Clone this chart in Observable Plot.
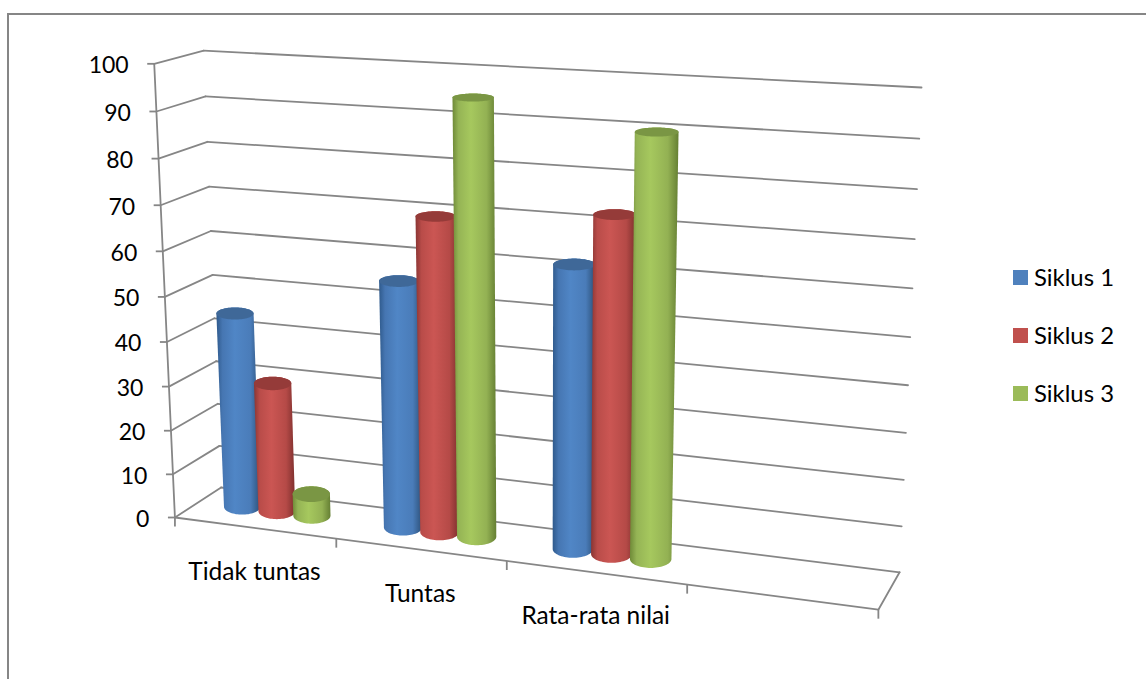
<!DOCTYPE html>
<html><head><meta charset="utf-8">
<script src="https://cdn.jsdelivr.net/npm/d3@7"></script>
<script src="https://cdn.jsdelivr.net/npm/@observablehq/plot@0.6"></script>
<style>
html,body{margin:0;padding:0;background:#fff;overflow:hidden}
#wrap{position:relative;width:1146px;height:679px;font-family:Lato,sans-serif;color:#000}
#frame{position:absolute;left:7px;top:13px;right:-5px;bottom:-5px;border:2px solid #868686}
#legend{position:absolute;left:1013px;top:248px;font-size:23.9px;line-height:58px}
#legend div{display:flex;align-items:center;height:58px}
#legend i{display:block;width:15px;height:15px;margin-right:6px}
svg{position:absolute;left:0;top:0;background:transparent}
</style></head><body>
<div id="wrap"><div id="frame"></div><div id="chart"></div><div id="legend"></div></div>
<script>
const categories = ["Tidak tuntas", "Tuntas", "Rata-rata nilai"];
const slots = 4; // the original axis keeps a fourth, empty category slot
const seriesNames = ["Siklus 1", "Siklus 2", "Siklus 3"];
const siklus1 = [44.5, 55, 61.7];
const siklus2 = [29.5, 69.5, 72.7];
const siklus3 = [5, 94.8, 90];
const seriesValues = [siklus1, siklus2, siklus3];
const yTicks = [0,10,20,30,40,50,60,70,80,90,100];
const swatches = ["#4f81bd","#c0504d","#9bbb59"];
const topColors = ["#3f6898","#953b39","#7a9644"];
const gradients = [
  ["#2f5a8c","#4676b2","#5086c6","#4a7cb9","#2c5078"],
  ["#8a3533","#b94c49","#cb5653","#b54a47","#7d2f2d"],
  ["#6f8a38","#95b455","#a6c85e","#93b153","#657f33"]
];

// perspective camera calibrated on the box corners of the 3-D chart: [u, value/100, depth] -> picture
const calib = [
  [0,0,0,175,517],[1,0,0,878,609],[1,0,1,899,572],[0,0,1,220,487],
  [0,1,0,153,63.5],[0,1,1,204,50],[1,1,1,921,87]
];
function solveCamera(pts){
  const rows=[],rhs=[];
  for(const [X,Y,Z,px,py] of pts){
    const x=px/1000,y=py/1000;
    rows.push([X,Y,Z,1,0,0,0,0,-x*X,-x*Y,-x*Z]);rhs.push(x);
    rows.push([0,0,0,0,X,Y,Z,1,-y*X,-y*Y,-y*Z]);rhs.push(y);
  }
  const n=11,A=[];
  for(let i=0;i<n;i++){A.push(new Array(n+1).fill(0));
    for(let j=0;j<n;j++)for(let k=0;k<rows.length;k++)A[i][j]+=rows[k][i]*rows[k][j];
    for(let k=0;k<rows.length;k++)A[i][n]+=rows[k][i]*rhs[k];
    A[i][i]+=1e-9;}
  for(let i=0;i<n;i++){let m=i;for(let r=i+1;r<n;r++)if(Math.abs(A[r][i])>Math.abs(A[m][i]))m=r;
    [A[i],A[m]]=[A[m],A[i]];
    for(let r=0;r<n;r++)if(r!==i){const f=A[r][i]/A[i][i];for(let c=i;c<=n;c++)A[r][c]-=f*A[i][c];}}
  return A.map((r,i)=>r[n]/r[i]);
}
const P=solveCamera(calib);
function proj(u,v,d){
  const w=P[8]*u+P[9]*v+P[10]*d+1;
  return {x:1000*(P[0]*u+P[1]*v+P[2]*d+P[3])/w, y:1000*(P[4]*u+P[5]*v+P[6]*d+P[7])/w};
}
const V=t=>t/100;

const gridBack = yTicks.flatMap(t=>[{t,...proj(0,V(t),1)},{t,...proj(1,V(t),1)}]);
const gridLeft = yTicks.flatMap(t=>[{t,...proj(0,V(t),0)},{t,...proj(0,V(t),1)}]);
const axisLeft = [proj(0,0,0),proj(0,1,0)];
const floorEdge = [proj(0,0,0),proj(1,0,0),proj(1,0,1)];
const xTicks = d3.range(slots+1).map(i=>proj(i/slots,0,0));
const yTickPts = yTicks.map(t=>({t,...proj(0,V(t),0)}));
const catPts = categories.map((c,i)=>({c,...proj((i+.5)/slots,0,0)}));

const spacing=0.055, rU=0.029, rD=0.26, midD=0.53, uShift=-0.002;
// the cylinder caps of the original are level ellipses: sizes come from the projection, the skew does not
function circle(u,v){
  const c=proj(u,v,midD);
  const rx=(proj(u+rU,v,midD).x-proj(u-rU,v,midD).x)/2;
  const ry=(proj(u,v,midD-rD).y-proj(u,v,midD+rD).y)/2;
  return d3.range(0,72).map(a=>{const t=a/72*2*Math.PI;return {x:c.x+rx*Math.cos(t),y:c.y+ry*Math.sin(t)};});
}
const cylinderMarks=[];
categories.forEach((c,i)=>{
  seriesValues.forEach((vals,j)=>{
    const u=(i+.5)/slots+(j-1)*spacing+uShift;
    const base=circle(u,0), top=circle(u,V(vals[i]));
    const hull=d3.polygonHull(base.concat(top).map(p=>[p.x,p.y])).map(([x,y])=>({x,y}));
    cylinderMarks.push(Plot.line(hull.concat(hull[0]),{x:"x",y:"y",fill:`url(#g${j})`,stroke:"none"}));
    cylinderMarks.push(Plot.line(top,{x:"x",y:"y",fill:topColors[j],stroke:"none"}));
  });
});

const grey="#868686", lw=1.8;
const svg=Plot.plot({
  width:1146,height:679,margin:0,
  x:{domain:[0,1146],range:[0,1146],axis:null},
  y:{domain:[0,679],range:[0,679],axis:null},
  style:{background:"transparent"},
  marks:[
    Plot.line(gridBack,{x:"x",y:"y",z:"t",stroke:grey,strokeWidth:lw}),
    Plot.line(gridLeft,{x:"x",y:"y",z:"t",stroke:grey,strokeWidth:lw}),
    Plot.line(axisLeft,{x:"x",y:"y",stroke:grey,strokeWidth:lw}),
    Plot.line(floorEdge,{x:"x",y:"y",stroke:grey,strokeWidth:lw}),
    Plot.link(xTicks,{x1:"x",y1:"y",x2:"x",y2:d=>d.y+9,stroke:grey,strokeWidth:lw}),
    Plot.link(yTickPts,{x1:"x",y1:"y",x2:d=>d.x-7,y2:"y",stroke:grey,strokeWidth:lw}),
    ...cylinderMarks,
    Plot.text(yTickPts,{x:"x",y:"y",text:d=>String(d.t),textAnchor:"end",dx:-25.5,dy:2,fontSize:23,fontFamily:"Lato",fill:"#000"}),
    Plot.text(catPts,{x:"x",y:"y",text:"c",dy:44,fontSize:24.5,fontFamily:"Lato",fill:"#000"})
  ]
});
const ns="http://www.w3.org/2000/svg";
const defs=document.createElementNS(ns,"defs");
gradients.forEach((g,j)=>{
  const lg=document.createElementNS(ns,"linearGradient");
  lg.setAttribute("id",`g${j}`);lg.setAttribute("x1","0");lg.setAttribute("x2","1");lg.setAttribute("y1","0");lg.setAttribute("y2","0");
  [0,.14,.42,.78,1].forEach((o,k)=>{const s=document.createElementNS(ns,"stop");s.setAttribute("offset",o);s.setAttribute("stop-color",g[k]);lg.appendChild(s);});
  defs.appendChild(lg);
});
svg.insertBefore(defs,svg.firstChild);
document.getElementById("chart").appendChild(svg);
document.getElementById("legend").innerHTML=seriesNames.map((n,j)=>`<div><i style="background:${swatches[j]}"></i><span>${n}</span></div>`).join("");
</script>
</body></html>
